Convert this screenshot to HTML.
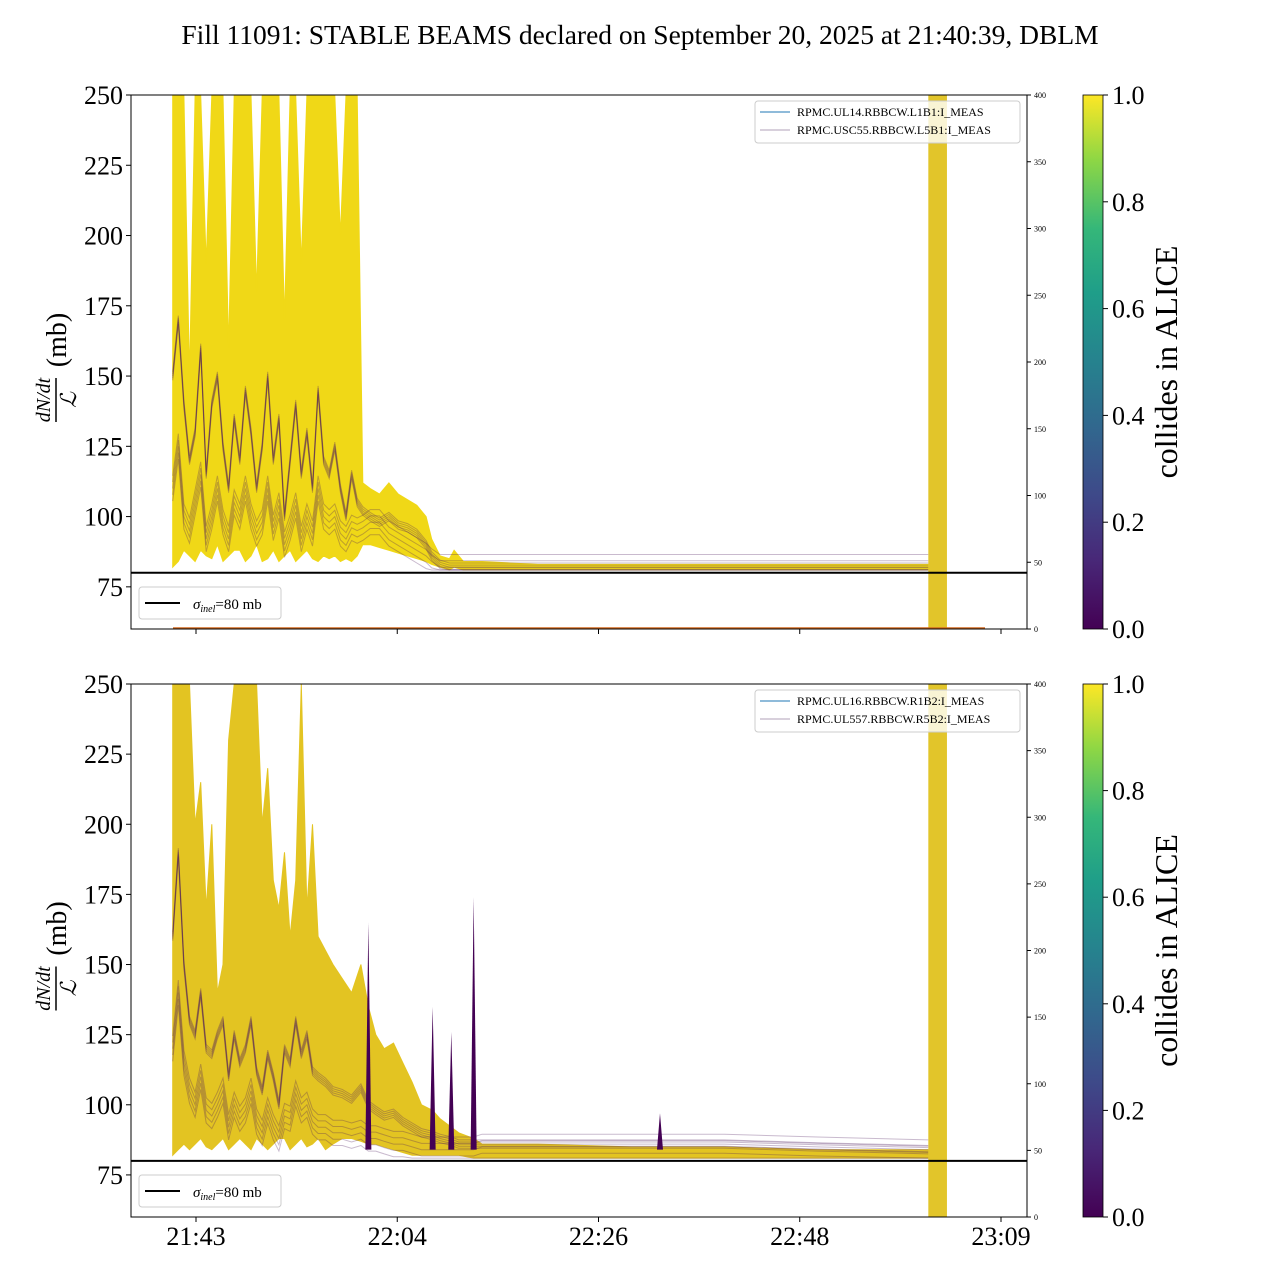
<!DOCTYPE html>
<html><head><meta charset="utf-8"><style>
html,body{margin:0;padding:0;background:#fff}
body{width:1280px;height:1280px;overflow:hidden;font-family:"Liberation Serif",serif}
</style></head><body>
<svg id="fig" width="1280" height="1280" viewBox="0 0 1280 1280" xmlns="http://www.w3.org/2000/svg" font-family="Liberation Serif, serif">
<defs>
<linearGradient id="viridis" x1="0" y1="1" x2="0" y2="0">
<stop offset="0" stop-color="#440154"/><stop offset="0.13" stop-color="#482878"/><stop offset="0.25" stop-color="#3e4989"/><stop offset="0.38" stop-color="#31688e"/><stop offset="0.5" stop-color="#26828e"/><stop offset="0.63" stop-color="#1f9e89"/><stop offset="0.75" stop-color="#35b779"/><stop offset="0.88" stop-color="#8fd744"/><stop offset="1" stop-color="#fde725"/>
</linearGradient>
<clipPath id="clipTop"><rect x="131" y="95" width="896" height="534"/></clipPath>
<clipPath id="clipBot"><rect x="131" y="684" width="896" height="533"/></clipPath>
</defs>
<text x="640" y="44" font-size="27.5" text-anchor="middle">Fill 11091: STABLE BEAMS declared on September 20, 2025 at 21:40:39, DBLM</text>
<g id="top"></g>
<g id="bot"></g>
</svg>
<script>
// ---- data (times: minutes after 21:00) ----
const tickTimes = [43.3, 64.9, 86.5, 108.1, 129.7];
const tickLabels = ["21:43", "22:04", "22:26", "22:48", "23:09"];
const yTicks = [75, 100, 125, 150, 175, 200, 225, 250];
const rTicks = [0, 50, 100, 150, 200, 250, 300, 350, 400];
const cbTicks = [0.0, 0.2, 0.4, 0.6, 0.8, 1.0];
const sigmaInel = 80;
const bandStart = 121.9, bandEnd = 123.9;

const topTimes = [40.8,41.4,42.0,42.6,43.2,43.8,44.4,45.0,45.6,46.2,46.8,47.4,48.0,48.6,49.2,49.8,50.4,51.0,51.6,52.2,52.8,53.4,54.0,54.6,55.2,55.8,56.4,57.0,57.6,58.2,58.8,59.4,60.0,60.6,61.2,62,63,64,65,66,67,68,68.6,69.5,70.5,71,72,74,80,90,100,110,121.9];
const topUpper = [250,250,250,150,250,250,190,250,250,250,160,250,250,250,250,180,250,250,250,250,170,250,250,190,250,250,250,250,250,250,200,250,250,250,112,110,108,112,108,106,104,100,92,86,85,88,84,84,83,83,83,83,83];
const topLower = [82,84,88,86,84,88,86,85,90,84,86,88,88,84,86,90,84,85,88,84,86,88,84,86,88,85,84,86,85,86,84,85,84,86,90,90,89,88,87,86,85,84,83,82,81,82,81,81,81,81,81,81,81];
const topPurpleA = [150,170,140,120,130,160,115,140,150,125,110,135,120,145,130,110,125,150,120,135,100,120,140,115,130,110,145,120,115,125,110,100,115,105,102,100,98,100,97,96,94,90,86,83,82,82,82,82,82,82,82,82,82];
const topPurpleB = [110,125,100,95,105,115,92,100,110,98,92,105,100,110,100,94,98,110,96,104,90,96,104,92,100,94,110,100,98,100,94,92,96,95,96,98,98,94,92,90,88,86,84,82,82,82,82,82,82,82,82,82,82];

const botTimes = [40.8,41.4,42.0,42.6,43.2,43.8,44.4,45.0,45.6,46.2,46.8,47.4,48.0,48.6,49.2,49.8,50.4,51.0,51.6,52.2,52.8,53.4,54.0,54.6,55.2,55.8,56.4,57.2,58,59,60,61,61.8,62.6,63.5,64.5,65.5,66.5,67.5,68.7,69.5,70.7,71.5,73.1,74,80,90,93.1,94,100,110,121.9];
const botUpper = [250,250,250,250,200,215,170,200,140,150,230,250,250,250,250,250,200,220,180,170,190,160,180,250,170,200,160,155,150,145,140,150,135,125,120,122,115,108,100,98,95,92,90,88,86,86,85,85,85,85,84,84];
const botLower = [82,84,86,84,86,88,85,84,86,88,84,86,88,86,84,88,86,84,86,88,88,84,86,88,85,86,88,84,86,88,88,87,86,86,85,84,83,82,82,82,82,82,82,81,81,81,81,81,81,81,81,81];
const botPurpleA = [160,190,150,130,125,140,120,118,125,130,110,125,115,120,130,112,105,118,110,100,120,115,130,118,125,112,110,108,105,104,102,106,100,98,96,97,94,92,90,89,88,87,86,86,86,86,86,86,86,86,85,84];
const botPurpleB = [120,140,115,105,100,110,98,96,100,105,92,100,95,98,105,94,90,98,92,88,96,95,104,98,100,94,92,92,90,90,89,90,88,88,87,86,86,85,84,84,84,84,84,84,85,85,85,85,85,85,84,83];
const botSpikeTimes = [61.8, 68.7, 70.7, 73.1, 93.1];
const botSpikeValues = [165, 135, 126, 174, 97];

// ---- scales ----
const X0 = 131, X1 = 1027;
function xs(t){ return 196 + (t - 43.3) * 9.317; }
function ysFor(top, bottom){ return v => bottom - (v - 60) / 190 * (bottom - top); }
function rsFor(top, bottom){ return v => bottom - v / 400 * (bottom - top); }
const NS = "http://www.w3.org/2000/svg";
function el(tag, attrs, parent){ const e = document.createElementNS(NS, tag); for (const k in attrs) e.setAttribute(k, attrs[k]); parent.appendChild(e); return e; }

function panel(g, top, bottom, clipId, times, upper, lower, pa, pb, spikesT, spikesV, bandColor, legendNames, showLabels){
  const ys = ysFor(top, bottom), rs = rsFor(top, bottom);
  const data = el("g", {"clip-path": "url(#" + clipId + ")"}, g);
  
  
  let pts = times.map((t,i) => xs(t).toFixed(1) + "," + ys(upper[i]).toFixed(1));
  for (let i = times.length - 1; i >= 0; i--) pts.push(xs(times[i]).toFixed(1) + "," + ys(lower[i]).toFixed(1));
  const band = el("polygon", {points: pts.join(" "), fill: bandColor, stroke: bandColor, "stroke-width": 1}, data);
  
  
  [pa, pb].forEach((s, k) => {
    for (let off = -1.5; off <= 1.5; off += 0.75) {
      const p = el("polyline", {points: times.map((t,i) => xs(t).toFixed(1) + "," + ys(Math.max(81, s[i] + off * (1 + k * 2))).toFixed(1)).join(" "), fill: "none", stroke: "#4b1a5e", "stroke-opacity": 0.3, "stroke-width": 1}, data);
      
      
    }
  });
  spikesT.forEach((t, i) => {
    const sp = el("polygon", {points: `${xs(t)-3},${ys(84)} ${xs(t)},${ys(spikesV[i])} ${xs(t)+3},${ys(84)}`, fill: "#440154"}, data);
    
    
  });
  const vb = el("rect", {x: xs(bandStart), y: top, width: xs(bandEnd) - xs(bandStart), height: bottom - top, fill: "#e2c52a"}, data);
  
  
  const sl = el("line", {x1: X0, x2: X1, y1: ys(sigmaInel), y2: ys(sigmaInel), stroke: "#000", "stroke-width": 2}, g);
  
  
  if (!showLabels) { const ol = el("line", {x1: 173, x2: 985, y1: bottom - 1, y2: bottom - 1, stroke: "#d2691e", "stroke-width": 1.5}, g);   }
  const fr = el("rect", {x: X0, y: top, width: X1 - X0, height: bottom - top, fill: "none", stroke: "#000", "stroke-width": 1}, g);
  
  
  yTicks.forEach(v => {
    el("line", {x1: X0 - 5, x2: X0, y1: ys(v), y2: ys(v), stroke: "#000"}, g);
    const tx = el("text", {x: X0 - 8, y: ys(v) + 9, "font-size": 26, "text-anchor": "end"}, g);
    tx.textContent = v;
    
    
  });
  rTicks.forEach(v => {
    el("line", {x1: X1, x2: X1 + 4, y1: rs(v), y2: rs(v), stroke: "#000"}, g);
    const tx = el("text", {x: X1 + 7, y: rs(v) + 3, "font-size": 8}, g);
    tx.textContent = v;
    
    
  });
  tickTimes.forEach((t, i) => {
    el("line", {x1: xs(t), x2: xs(t), y1: bottom, y2: bottom + 5, stroke: "#000"}, g);
    if (showLabels) {
      const tx = el("text", {x: xs(t), y: bottom + 28, "font-size": 26, "text-anchor": "middle"}, g);
      tx.textContent = tickLabels[i];
      
      
    }
  });
  const cy = (top + bottom) / 2;
  const yl = el("g", {transform: `translate(62,${cy}) rotate(-90)`}, g);
  
  
  const t1 = el("text", {x: -38, y: -12, "font-size": 20, "text-anchor": "middle", "font-style": "italic"}, yl); t1.textContent = "dN/dt";
  el("line", {x1: -60, x2: -16, y1: -6, y2: -6, stroke: "#000", "stroke-width": 1.5}, yl);
  const t2 = el("text", {x: -38, y: 14, "font-size": 22, "text-anchor": "middle", "font-style": "italic"}, yl); t2.textContent = "ℒ";
  const t3 = el("text", {x: 22, y: 4, "font-size": 28, "text-anchor": "middle"}, yl); t3.textContent = "(mb)";
  const lg = el("g", {}, g);
  
  
  el("rect", {x: 139, y: bottom - 42, width: 142, height: 32, rx: 3, fill: "#fff", stroke: "#ccc"}, lg);
  el("line", {x1: 145, x2: 180, y1: bottom - 26, y2: bottom - 26, stroke: "#000", "stroke-width": 2}, lg);
  const lt = el("text", {x: 193, y: bottom - 20, "font-size": 15}, lg);
  lt.innerHTML = '<tspan font-style="italic">σ</tspan><tspan font-style="italic" font-size="10" dy="3">inel</tspan><tspan dy="-3">=80 mb</tspan>';
  const lg2 = el("g", {}, g);
  
  
  el("rect", {x: 755, y: top + 6, width: 265, height: 42, rx: 3, fill: "#fff", "fill-opacity": 0.8, stroke: "#ccc"}, lg2);
  ["#1f77b4", "#b0a0b8"].forEach((c, i) => {
    el("line", {x1: 760, x2: 790, y1: top + 17 + i * 18, y2: top + 17 + i * 18, stroke: c, "stroke-width": 1}, lg2);
    const tx = el("text", {x: 797, y: top + 21 + i * 18, "font-size": 12}, lg2);
    tx.textContent = legendNames[i];
    
    
  });
  const cb = el("g", {}, g);
  
  
  el("rect", {x: 1083, y: top, width: 20, height: bottom - top, fill: "url(#viridis)", stroke: "#000", "stroke-width": 0.8}, cb);
  cbTicks.forEach(v => {
    const y = bottom - v * (bottom - top);
    el("line", {x1: 1103, x2: 1108, y1: y, y2: y, stroke: "#000"}, cb);
    const tx = el("text", {x: 1112, y: y + 9, "font-size": 26}, cb);
    tx.textContent = v.toFixed(1);
    
    
  });
  const cl = el("text", {x: 0, y: 0, "font-size": 32, "text-anchor": "middle", transform: `translate(1177,${cy}) rotate(-90)`}, cb);
  cl.textContent = "collides in ALICE";
  
  
}
panel(document.getElementById("top"), 95, 629, "clipTop", topTimes, topUpper, topLower, topPurpleA, topPurpleB, [], [], "#f0d817", ["RPMC.UL14.RBBCW.L1B1:I_MEAS", "RPMC.USC55.RBBCW.L5B1:I_MEAS"], false);
panel(document.getElementById("bot"), 684, 1217, "clipBot", botTimes, botUpper, botLower, botPurpleA, botPurpleB, botSpikeTimes, botSpikeValues, "#e3c422", ["RPMC.UL16.RBBCW.R1B2:I_MEAS", "RPMC.UL557.RBBCW.R5B2:I_MEAS"], true);
</script>
</body></html>
